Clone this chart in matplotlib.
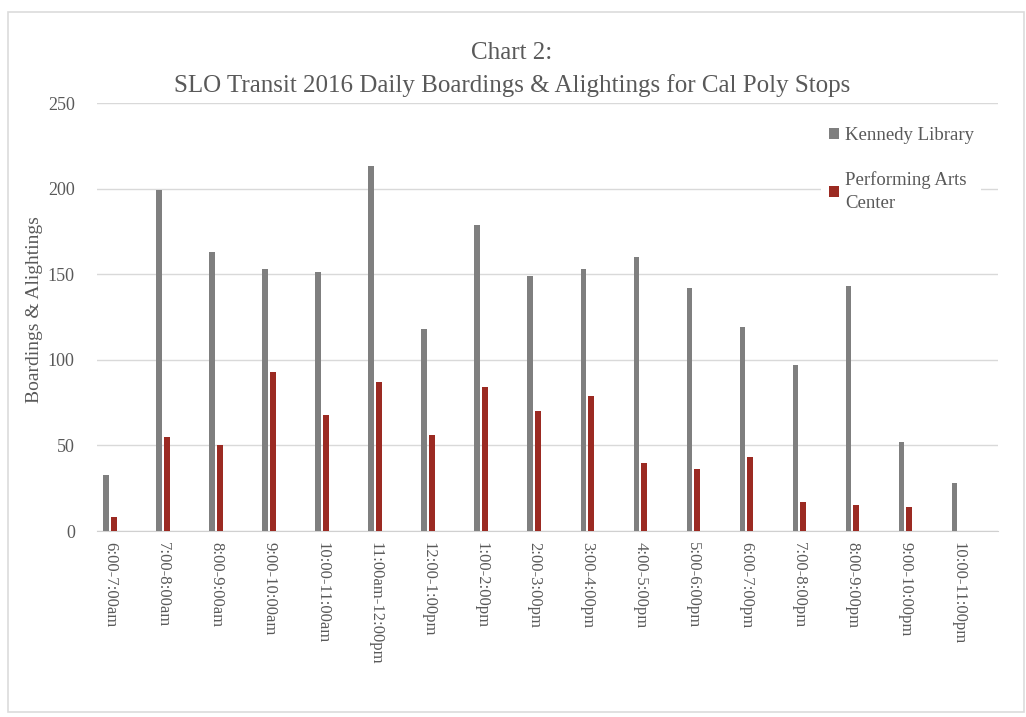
import numpy as np
import matplotlib
matplotlib.use("Agg")
import matplotlib.pyplot as plt
from matplotlib.patches import Rectangle

# data
time_slots = ["6:00-7:00am", "7:00-8:00am", "8:00-9:00am", "9:00-10:00am",
              "10:00-11:00am", "11:00am-12:00pm", "12:00-1:00pm", "1:00-2:00pm",
              "2:00-3:00pm", "3:00-4:00pm", "4:00-5:00pm", "5:00-6:00pm",
              "6:00-7:00pm", "7:00-8:00pm", "8:00-9:00pm", "9:00-10:00pm",
              "10:00-11:00pm"]
kennedy = [33, 199, 163, 153, 151, 213, 118, 179, 149, 153, 160, 142, 119, 97, 143, 52, 28]
pac = [8, 55, 50, 93, 68, 87, 56, 84, 70, 79, 40, 36, 43, 17, 15, 14, 0]

txt_col = "#595959"
plt.rcParams["font.family"] = ["Liberation Serif", "DejaVu Serif"]

fig = plt.figure(figsize=(10.26, 7.17), dpi=100)
ax = fig.add_axes([97/1026, 1 - 531/717, 901/1026, 428/717])

x = np.arange(len(time_slots))
w = 0.11
ax.bar(x - 0.07, kennedy, width=w, color="#7f7f7f", label="Kennedy Library", zorder=3)
ax.bar(x + 0.075, pac, width=w, color="#9b2a22", label="Performing Arts\nCenter", zorder=3)

ax.set_xlim(-0.245, 16.75)
ax.set_ylim(0, 250)
ax.set_yticks(np.arange(0, 251, 50))
ax.set_xticks(x)
ax.set_xticklabels(time_slots, rotation=270, fontsize=12, color=txt_col)
ax.tick_params(axis="y", labelsize=13, labelcolor=txt_col, length=0, pad=16)
ax.tick_params(axis="x", length=0, pad=8)
ax.grid(axis="y", color="#d9d9d9", linewidth=1, zorder=0)
for s in ["top", "right", "left"]:
    ax.spines[s].set_visible(False)
ax.spines["bottom"].set_color("#d0d0d0")

fig.text(35/1026, 1 - 310/717, "Boardings & Alightings", rotation=90,
         ha="center", va="center", fontsize=14, color=txt_col)

fig.text(0.499, 1 - 53/717, "Chart 2:", ha="center", va="center",
         fontsize=18, color=txt_col)
fig.text(0.499, 1 - 86/717, "SLO Transit 2016 Daily Boardings & Alightings for Cal Poly Stops",
         ha="center", va="center", fontsize=18, color=txt_col)

leg = ax.legend(loc="upper left", bbox_to_anchor=(812/1026, 1 - 110/717),
                bbox_transform=fig.transFigure, frameon=True, fontsize=13.5,
                handlelength=0.55, handleheight=0.55, handletextpad=0.3,
                labelspacing=1.45, borderpad=0.4)
leg.get_frame().set_edgecolor("none")
leg.get_frame().set_facecolor("white")
leg.get_frame().set_alpha(1)
for t in leg.get_texts():
    t.set_color(txt_col)
    t.set_linespacing(1.45)

# light frame around the chart
fig.patches.append(Rectangle((8/1026, 1 - 712/717), 1016/1026, 700/717,
                             transform=fig.transFigure, fill=False,
                             edgecolor="#dcdcdc", linewidth=1.2))

fig.savefig("out.png", dpi=100)
